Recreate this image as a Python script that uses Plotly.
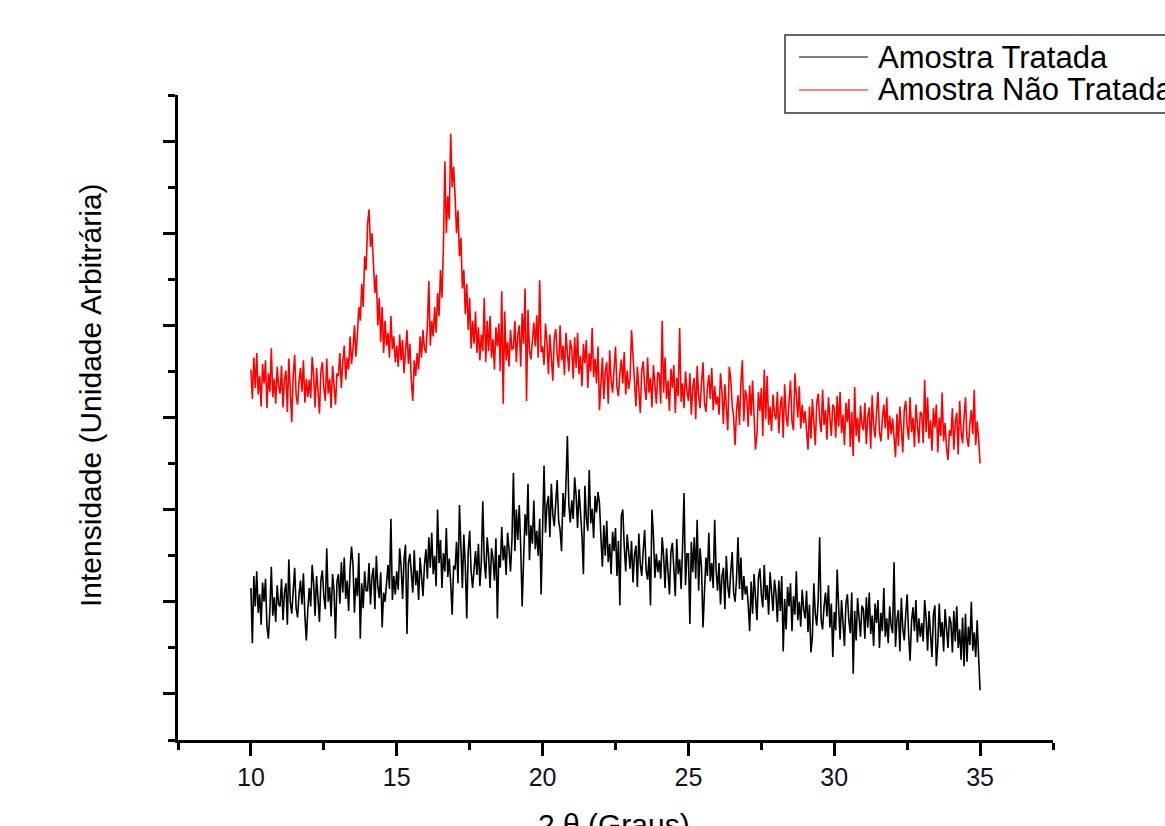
import numpy as np
import plotly.graph_objects as go

# 2-theta sampling grid (degrees): 10.00 .. 35.00, step 0.05
TWO_THETA_START = 10.0
TWO_THETA_STEP = 0.05

# Amostra Não Tratada (red), one row per degree (20 samples), plus final point at 35.00
nao_tratada = [
    452,420,465,432,470,425,445,412,458,437,462,410,448,428,475,422,442,415,455,434,   # 10
    426,456,411,441,451,406,464,431,395,446,468,424,414,439,454,428,462,416,442,422,   # 11
    441,421,466,446,411,454,428,404,450,460,432,418,464,426,442,410,456,438,414,448,   # 12
    445,470,432,460,478,441,465,452,488,458,474,500,466,490,520,505,545,520,575,560,   # 13
    610,626,585,600,560,535,555,500,530,482,520,470,505,478,492,465,510,474,488,460,   # 14
    478,455,490,462,484,448,472,495,458,480,440,418,462,445,470,452,488,465,495,475,   # 15
    470,500,548,478,505,488,520,492,535,510,560,530,585,678,600,640,615,708,650,672,   # 16
    640,600,625,575,595,540,560,512,545,495,530,475,505,480,515,470,498,462,490,472,   # 17
    530,460,505,472,510,465,485,452,498,477,502,450,537,415,515,462,482,455,495,474,   # 18
    475,505,460,490,500,455,513,480,540,418,517,473,463,488,503,477,511,465,549,471,   # 19
    477,457,502,482,447,490,464,440,486,496,468,454,500,462,478,446,492,474,450,484,   # 20
    474,442,487,454,492,447,467,434,480,459,484,432,470,450,497,444,464,437,477,408,   # 21
    435,465,420,450,460,415,473,440,427,455,477,433,423,448,463,437,471,425,451,431,   # 22
    442,495,467,447,412,455,429,405,451,461,433,419,465,427,443,411,457,439,415,449,   # 23
    447,415,505,427,465,420,440,407,453,432,457,405,443,423,497,417,437,410,450,429,   # 24
    418,448,403,433,443,398,456,423,410,438,460,416,406,431,446,420,454,408,434,414,   # 25
    423,403,448,428,393,436,410,386,455,442,414,400,370,408,424,392,438,462,396,430,   # 26
    422,390,435,402,440,395,365,382,428,407,432,380,452,398,445,392,412,385,425,404,   # 27
    398,428,383,413,423,378,436,403,390,418,440,396,386,448,426,400,434,388,414,394,   # 28
    407,387,365,412,377,420,394,370,416,426,398,384,430,392,408,376,422,404,380,414,   # 29
    410,378,423,390,428,383,403,370,416,395,420,368,406,358,433,380,400,373,413,392,   # 30
    386,416,371,401,411,366,424,391,378,406,428,384,374,399,414,388,422,376,402,382,   # 31
    399,379,357,404,369,412,386,362,408,418,390,376,422,384,400,368,414,396,372,406,   # 32
    404,372,441,384,422,377,397,364,410,389,414,362,400,380,427,374,394,367,354,386,   # 33
    380,410,365,395,405,360,418,385,372,400,422,378,368,393,408,382,430,370,396,376,   # 34
    350,                                                                               # 35
]

# Amostra Tratada (black)
tratada = [
    215,155,228,195,233,188,208,175,221,200,225,173,160,191,238,185,205,178,218,197,   # 10
    195,225,180,210,220,175,246,200,187,215,237,193,183,208,223,197,231,185,158,191,   # 11
    215,195,240,220,185,228,202,178,224,234,206,192,258,200,216,184,230,212,160,222,   # 12
    230,198,243,210,248,203,223,190,236,260,240,188,226,206,253,160,220,193,233,212,   # 13
    212,242,197,227,237,192,250,217,204,232,172,210,200,225,240,214,290,202,228,208,   # 14
    233,213,258,238,203,246,262,165,242,252,224,210,256,218,234,202,248,230,206,240,   # 15
    257,225,270,237,275,230,250,217,300,242,267,215,253,233,280,227,247,220,186,239,   # 16
    235,265,220,305,260,215,273,240,182,255,277,233,215,240,255,229,263,217,243,309,   # 17
    245,225,270,250,215,258,247,223,269,182,251,237,281,245,261,229,275,257,233,267,   # 18
    340,255,300,267,305,260,195,247,295,272,328,245,283,263,310,257,277,250,290,208,   # 19
    290,348,275,305,315,270,328,295,282,310,332,288,278,255,318,292,326,380,306,286,   # 20
    310,290,335,315,280,322,296,272,230,326,291,277,343,285,301,269,315,297,319,307,   # 21
    270,238,283,250,288,243,263,230,276,255,280,228,266,196,293,300,260,233,273,252,   # 22
    236,266,221,251,261,216,274,241,228,256,278,234,224,249,196,300,272,226,252,232,   # 23
    245,225,270,250,215,258,232,208,254,264,236,206,268,230,246,214,260,318,218,252,   # 24
    252,176,265,232,270,225,289,212,258,237,172,210,248,228,275,222,242,215,289,234,   # 25
    212,242,197,227,237,192,250,217,204,232,254,210,200,225,270,214,248,202,228,208,   # 26
    217,197,168,222,187,230,204,180,226,236,208,194,240,202,218,186,232,214,190,224,   # 27
    210,178,223,190,228,146,203,170,216,195,220,168,206,186,233,180,200,173,213,192,   # 28
    182,212,167,197,145,162,220,187,174,202,270,180,170,195,210,184,218,172,198,140,   # 29
    189,169,235,194,159,202,176,152,198,208,180,166,210,122,190,158,204,186,162,196,   # 30
    192,160,205,172,210,165,185,152,198,177,202,150,188,168,215,162,182,155,195,174,   # 31
    166,243,151,181,191,146,204,171,158,186,208,164,136,179,194,168,202,156,182,162,   # 32
    177,157,202,182,147,190,164,140,186,196,130,154,198,162,178,146,192,174,150,184,   # 33
    177,145,190,157,195,150,170,137,183,130,187,135,173,153,200,147,167,140,180,140,   # 34
    104,                                                                               # 35
]

series_names = ["Amostra Tratada", "Amostra Não Tratada"]
series_colors = ["#000000", "#ff0000"]

x_title = "2 θ (Graus)"
y_title = "Intensidade (Unidade Arbitrária)"

two_theta = np.round(TWO_THETA_START + TWO_THETA_STEP * np.arange(len(tratada)), 2)

FONT = "Arial, 'Liberation Sans', sans-serif"

fig = go.Figure()
fig.add_trace(go.Scatter(x=two_theta, y=tratada, mode="lines",
                         line=dict(color=series_colors[0], width=1.6),
                         name=series_names[0], showlegend=False))
fig.add_trace(go.Scatter(x=two_theta, y=nao_tratada, mode="lines",
                         line=dict(color=series_colors[1], width=1.6),
                         name=series_names[1], showlegend=False))

W, H = 1165, 826
L, R, T, B = 178, 112, 95, 86
pw, ph = W - L - R, H - T - B

def px(xp):
    return (xp - L) / pw

def py(yp):
    return (H - B - yp) / ph

fig.update_layout(
    width=W, height=H,
    margin=dict(l=L, r=R, t=T, b=B, pad=0),
    paper_bgcolor="white", plot_bgcolor="white",
    font=dict(family=FONT, color="black"),
    showlegend=False,
    xaxis=dict(range=[7.5, 37.5], showgrid=False, zeroline=False,
               showline=True, linecolor="black", linewidth=2.5,
               ticks="outside", ticklen=13, tickwidth=2.5, tickcolor="black",
               tick0=0, dtick=5, tickfont=dict(size=25, family=FONT, color="#111122"),
               minor=dict(ticks="outside", ticklen=7, tickwidth=2.5, tickcolor="black",
                          tick0=0, dtick=2.5, showgrid=False)),
    yaxis=dict(range=[50, 750], showgrid=False, zeroline=False,
               showline=True, linecolor="black", linewidth=2.5,
               ticks="outside", ticklen=12, tickwidth=2.5, tickcolor="black",
               tick0=0, dtick=100, showticklabels=False,
               minor=dict(ticks="outside", ticklen=7, tickwidth=2.5, tickcolor="black",
                          tick0=0, dtick=50, showgrid=False)),
)

# axis titles
fig.add_annotation(text=y_title, xref="paper", yref="paper", x=px(90), y=py(395),
                   textangle=-90, showarrow=False, xanchor="center", yanchor="middle",
                   font=dict(size=30, family=FONT, color="black"))
fig.add_annotation(text=x_title, xref="paper", yref="paper", x=px(614), y=py(806),
                   showarrow=False, xanchor="center", yanchor="top",
                   font=dict(size=30, family=FONT, color="black"))

# legend box (extends past the right edge as in the original)
fig.add_shape(type="rect", xref="paper", yref="paper",
              x0=px(785), x1=px(1200), y0=py(113), y1=py(35),
              line=dict(color="#333333", width=1.5), fillcolor="rgba(0,0,0,0)")
for i, (name, color, yp) in enumerate(zip(series_names, series_colors, [57, 90])):
    fig.add_shape(type="line", xref="paper", yref="paper",
                  x0=px(799), x1=px(868), y0=py(yp), y1=py(yp),
                  line=dict(color=color, width=1.2))
    fig.add_annotation(text=name, xref="paper", yref="paper", x=px(876), y=py(yp),
                       showarrow=False, xanchor="left", yanchor="middle",
                       font=dict(size=31, family=FONT, color="black"))

fig.write_html("out.html", config={"displayModeBar": False},
               post_script="document.body.style.margin='0';document.body.style.overflow='hidden';")
